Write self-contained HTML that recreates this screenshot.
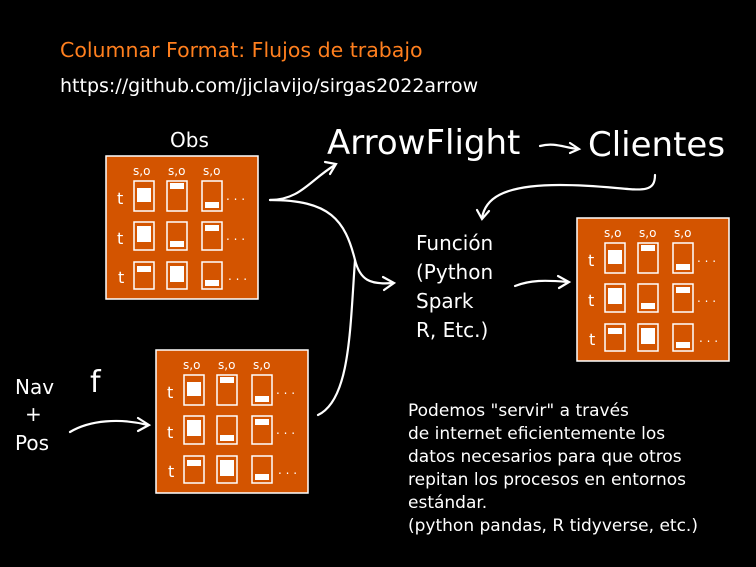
<!DOCTYPE html>
<html><head><meta charset="utf-8"><style>
html,body{margin:0;padding:0;background:#000;}
svg{display:block}
text{font-family:"DejaVu Sans","Liberation Sans",sans-serif;fill:#fff}
</style></head><body>
<svg width="756" height="567" viewBox="0 0 756 567" xmlns="http://www.w3.org/2000/svg">
<defs>
<g id="box">
<rect x="0" y="0" width="152" height="143" fill="#d35400" stroke="#fff" stroke-width="1.5"/>
<g fill="none" stroke="#fff" stroke-width="1.5">
<rect x="28" y="25" width="20" height="30"/><rect x="61" y="25" width="20" height="30"/><rect x="96" y="25" width="20" height="30"/>
<rect x="28" y="66" width="20" height="28"/><rect x="61" y="66" width="20" height="28"/><rect x="96" y="66" width="20" height="28"/>
<rect x="28" y="106" width="20" height="27"/><rect x="61" y="106" width="20" height="27"/><rect x="96" y="106" width="20" height="27"/>
</g>
<g fill="#fff">
<rect x="31" y="32" width="14" height="14"/><rect x="64" y="27" width="14" height="6"/><rect x="99" y="46" width="14" height="6"/>
<rect x="31" y="70" width="14" height="16"/><rect x="64" y="85" width="14" height="6"/><rect x="99" y="69" width="14" height="6"/>
<rect x="31" y="110" width="14" height="6"/><rect x="64" y="110" width="14" height="16"/><rect x="99" y="124" width="14" height="6"/>
</g>
<g font-size="12"><text x="27" y="19">s,o</text><text x="62" y="19">s,o</text><text x="97" y="19">s,o</text>
<text x="11" y="48" font-size="16">t</text><text x="11" y="88" font-size="16">t</text><text x="12" y="127" font-size="16">t</text>
<text x="120" y="44">. . .</text><text x="120" y="84">. . .</text><text x="122" y="124">. . .</text></g>
</g>
</defs>
<text x="60" y="57" font-size="20.5" style="fill:#ff7f1e">Columnar Format: Flujos de trabajo</text>
<text x="60" y="92" font-size="19">https://github.com/jjclavijo/sirgas2022arrow</text>
<text x="170" y="147" font-size="20">Obs</text>
<text x="327" y="154" font-size="34">ArrowFlight</text>
<text x="588" y="156" font-size="34">Clientes</text>
<use href="#box" x="106" y="156"/>
<use href="#box" x="156" y="350"/>
<use href="#box" x="577" y="218"/>
<g font-size="20"><text x="416" y="250">Función</text><text x="416" y="279">(Python</text><text x="416" y="308">Spark</text><text x="416" y="337">R, Etc.)</text></g>
<g font-size="20"><text x="15" y="394">Nav</text><text x="25" y="421">+</text><text x="15" y="450">Pos</text></g>
<text x="90" y="392" font-size="30">f</text>
<g font-size="17"><text x="408" y="416">Podemos "servir" a través</text><text x="408" y="439">de internet eficientemente los</text><text x="408" y="462">datos necesarios para que otros</text><text x="408" y="485">repitan los procesos en entornos</text><text x="408" y="508">estándar.</text><text x="408" y="531">(python pandas, R tidyverse, etc.)</text></g>
<g fill="none" stroke="#fff" stroke-width="2.2" stroke-linecap="round">
<path d="M270 200 C300 200 310 180 335 165"/><path d="M325 162 L336 164 L330 174"/>
<path d="M270 200 C330 200 345 220 355 260 C360 280 370 285 393 283"/><path d="M383 277 L394 283 L384 290"/>
<path d="M318 415 C350 400 350 330 355 260"/>
<path d="M540 146 C555 142 565 148 578 149"/><path d="M570 143 L579 149 L570 153"/>
<path d="M655 175 C655 200 630 185 560 185 C500 185 485 200 482 218"/><path d="M477 210 L482 219 L489 211"/>
<path d="M515 286 C530 280 545 280 568 282"/><path d="M558 276 L569 282 L559 288"/>
<path d="M70 432 C90 420 120 418 148 425"/><path d="M138 418 L149 425 L138 431"/>
</g>
</svg>
</body></html>
